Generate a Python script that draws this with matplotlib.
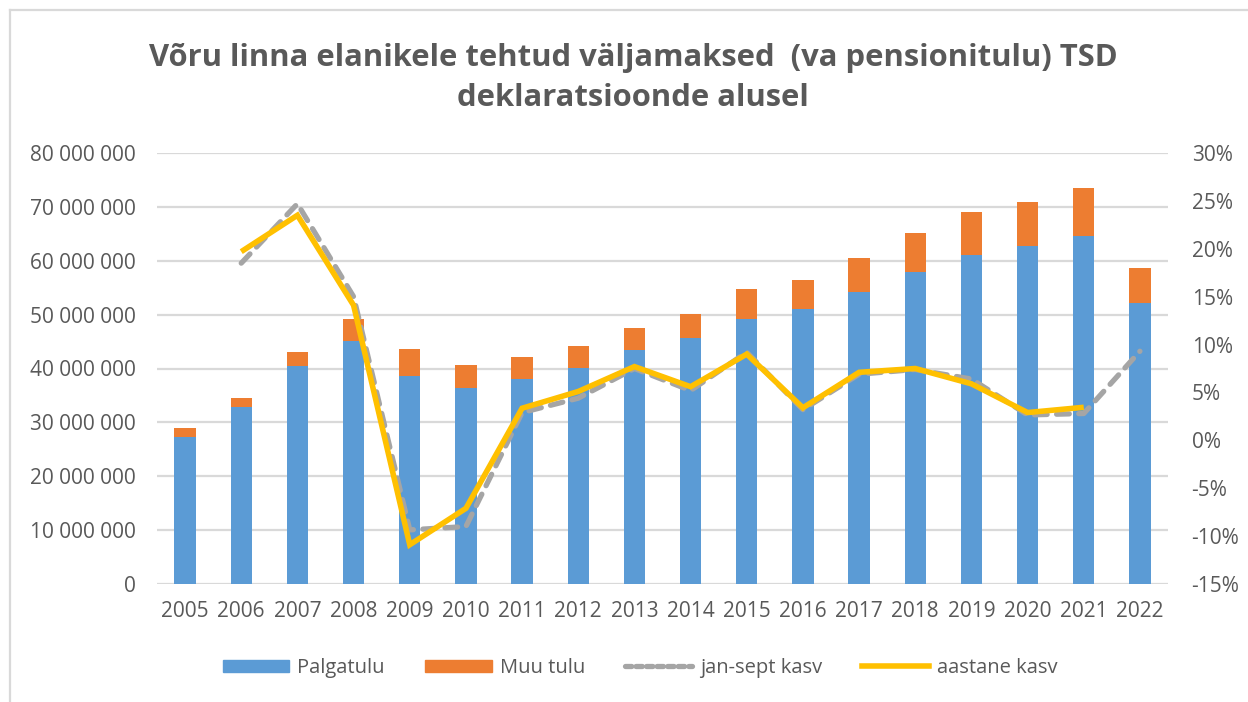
import matplotlib
matplotlib.use("Agg")
import matplotlib.pyplot as plt
import numpy as np
from matplotlib.ticker import FuncFormatter, MultipleLocator
from matplotlib.lines import Line2D
from matplotlib.patches import Patch

years = ["2005", "2006", "2007", "2008", "2009", "2010", "2011", "2012", "2013",
         "2014", "2015", "2016", "2017", "2018", "2019", "2020", "2021", "2022"]
palgatulu = [27.3, 32.8, 40.4, 45.1, 38.7, 36.4, 38.0, 40.1, 43.5,
             45.6, 49.2, 51.1, 54.2, 58.0, 61.1, 62.8, 64.6, 52.1]  # millions
kokku = [28.9, 34.6, 43.0, 49.2, 43.7, 40.6, 42.1, 44.2, 47.6,
         50.1, 54.7, 56.5, 60.6, 65.2, 69.0, 70.9, 73.5, 58.7]  # millions (total)
muu_tulu = [t - p for t, p in zip(kokku, palgatulu)]
jan_sept_kasv = [None, 18.5, 24.7, 15.0, -9.35, -9.0, 2.9, 4.4, 7.5,
                 5.2, 9.2, 3.2, 6.9, 7.4, 6.4, 2.65, 2.8, 9.3]  # %
aastane_kasv = [None, 19.7, 23.5, 14.1, -10.9, -7.1, 3.35, 5.1, 7.7,
                5.6, 9.0, 3.4, 7.1, 7.5, 5.9, 2.9, 3.45, None]  # %

title = "Võru linna elanikele tehtud väljamaksed  (va pensionitulu) TSD\ndeklaratsioonde alusel"

BLUE = "#5B9BD5"
ORANGE = "#ED7D31"
GRAY = "#A5A5A5"
YELLOW = "#FFC000"
TXT = "#595959"
GRID = "#D9D9D9"

plt.rcParams["font.family"] = ["Open Sans", "DejaVu Sans"]

fig = plt.figure(figsize=(12.48, 7.02), dpi=100)
ax = fig.add_axes([157 / 1248, 1 - 584 / 702, (1168 - 157) / 1248, (584 - 153) / 702])

x = np.arange(len(years))
pal = np.array(palgatulu) * 1e6
muu = np.array(muu_tulu) * 1e6
w = 0.38
ax.bar(x, pal, width=w, color=BLUE, zorder=2)
ax.bar(x, muu, width=w, bottom=pal, color=ORANGE, zorder=2)

ax.set_xlim(-0.5, len(years) - 0.5)
ax.set_ylim(0, 80e6)
ax.yaxis.set_major_locator(MultipleLocator(10e6))
ax.yaxis.set_major_formatter(FuncFormatter(lambda v, p: f"{v:,.0f}".replace(",", " ")))
ax.set_xticks(x)
ax.set_xticklabels(years)
ax.grid(axis="y", color=GRID, linewidth=1.6, zorder=0)
ax.set_axisbelow(True)
for s in ax.spines.values():
    s.set_visible(False)
ax.tick_params(axis="both", length=0, labelsize=15, colors=TXT)
ax.tick_params(axis="y", pad=15)
ax.tick_params(axis="x", pad=12)

ax2 = ax.twinx()
ax2.set_ylim(-15, 30)
ax2.yaxis.set_major_locator(MultipleLocator(5))
ax2.yaxis.set_major_formatter(FuncFormatter(lambda v, p: f"{v:.0f}%"))
for s in ax2.spines.values():
    s.set_visible(False)
ax2.tick_params(axis="y", length=0, labelsize=15, colors=TXT, pad=17)

js = np.array([np.nan if v is None else v for v in jan_sept_kasv], dtype=float)
ak = np.array([np.nan if v is None else v for v in aastane_kasv], dtype=float)
ax2.plot(x, js, color=GRAY, linewidth=3.8, linestyle=(0, (2.4, 1.8)),
         dash_capstyle="round", zorder=3)
ax2.plot(x, ak, color=YELLOW, linewidth=4.0, solid_joinstyle="miter",
         solid_capstyle="butt", zorder=4)

fig.text(633 / 1248, 1 - 78 / 702, title, ha="center", va="center",
         fontsize=22.3, fontweight="bold", color=TXT, linespacing=1.45)

handles = [Patch(color=BLUE), Patch(color=ORANGE),
           Line2D([], [], color=GRAY, linewidth=3.8, linestyle=(0, (1.2, 0.8)), dash_capstyle="round"),
           Line2D([], [], color=YELLOW, linewidth=4.0)]
labels = ["Palgatulu", "Muu tulu", "jan-sept kasv", "aastane kasv"]
fig.legend(handles, labels, loc="center", bbox_to_anchor=(640 / 1248, 1 - 668 / 702),
           ncol=4, frameon=False, fontsize=14.5, labelcolor=TXT,
           handlelength=3.3, handleheight=0.6, handletextpad=0.4, columnspacing=2.0)

# chart frame
fig.add_artist(Line2D([10 / 1248, 1.0], [1 - 10 / 702, 1 - 10 / 702],
                      transform=fig.transFigure, color=GRID, linewidth=1.6))
fig.add_artist(Line2D([10 / 1248, 10 / 1248], [0.0, 1 - 10 / 702],
                      transform=fig.transFigure, color=GRID, linewidth=1.6))

fig.savefig("out.png", dpi=100)
